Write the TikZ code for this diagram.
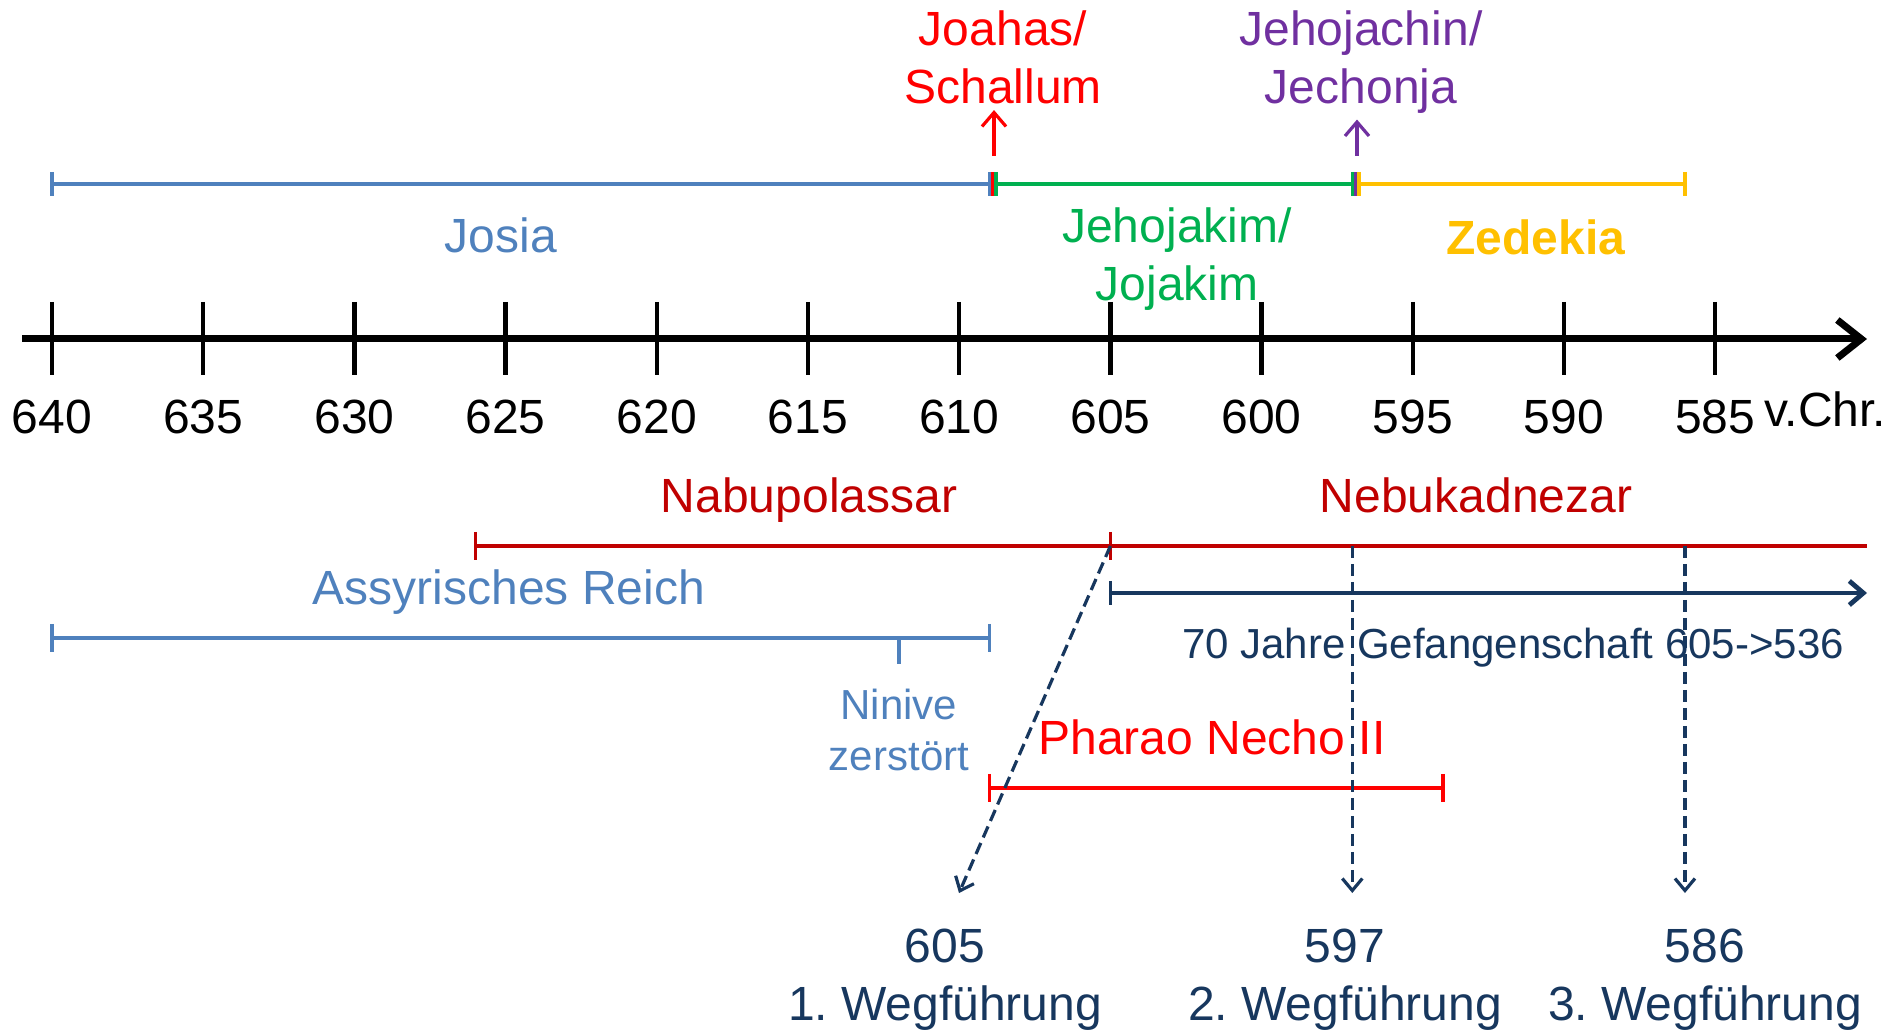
\documentclass[tikz,border=0pt]{standalone}
\usepackage{fontspec}
\setmainfont{Liberation Sans}
\usetikzlibrary{arrows.meta}
\frenchspacing

\definecolor{josia}{RGB}{79,129,189}
\definecolor{kred}{RGB}{255,0,0}
\definecolor{kgreen}{RGB}{0,176,80}
\definecolor{kgold}{RGB}{255,192,0}
\definecolor{kpurple}{RGB}{112,48,160}
\definecolor{babred}{RGB}{192,0,0}
\definecolor{navy}{RGB}{23,55,94}

% x position of a year (in px of the picture)
\newcommand{\yr}[1]{(52+(640-#1)*30.24)}

\tikzset{
  lbl/.style={inner sep=0pt, align=center, font=\fontsize{24}{29}\selectfont},
  lblsm/.style={inner sep=0pt, align=center, font=\fontsize{21}{25.5}\selectfont},
  span/.style={line width=2.4pt},
  tck/.style={line width=1.8pt},
  wegf/.style={navy, line width=1.6pt, dash pattern=on 6pt off 3pt,
    -{Straight Barb[length=6pt,width=10pt]}},
}

\begin{document}
\begin{tikzpicture}[x=0.5pt,y=-0.5pt]
\useasboundingbox (0,0) rectangle (1897,1031);

% time axis
\coordinate (axL) at (22,339);
\coordinate (axR) at (1867,339);
\draw[line width=3.5pt, -{Straight Barb[length=12pt,width=19pt]}] (axL) -- (axR);
\foreach \y in {640,635,...,585}{
  \draw[line width=2.2pt] ({\yr{\y}},302) -- ({\yr{\y}},375);
  \node[lbl, anchor=base] (l\y) at ({\yr{\y}},434) {\y};
}
\node[lbl, anchor=base west] (vchr) at (1764,427) {v.Chr.};

% kings of Juda
\coordinate (k640) at ({\yr{640}},184);
\coordinate (k609) at ({\yr{609}},184);
\coordinate (k597) at ({\yr{597}},184);
\coordinate (k586) at ({\yr{586}},184);
\draw[span,josia] (k640) -- (k609);
\draw[span,kgreen] ([xshift=2pt]k609) -- (k597);
\draw[span,kgold] ([xshift=2pt]k597) -- (k586);
\draw[tck,josia] ([yshift=6pt]k640) -- ([yshift=-6pt]k640);
\draw[tck,josia] ([yshift=6pt]k609) -- ([yshift=-6pt]k609);
\draw[tck,kred] ([xshift=1.7pt,yshift=6pt]k609) -- ([xshift=1.7pt,yshift=-6pt]k609);
\draw[tck,kgreen] ([xshift=3.4pt,yshift=6pt]k609) -- ([xshift=3.4pt,yshift=-6pt]k609);
\draw[tck,kgreen] ([yshift=6pt]k597) -- ([yshift=-6pt]k597);
\draw[tck,kpurple] ([xshift=1.7pt,yshift=6pt]k597) -- ([xshift=1.7pt,yshift=-6pt]k597);
\draw[tck,kgold] ([xshift=3.4pt,yshift=6pt]k597) -- ([xshift=3.4pt,yshift=-6pt]k597);
\draw[tck,kgold] ([yshift=6pt]k586) -- ([yshift=-6pt]k586);

\node[lbl, josia, anchor=base] (jos) at (501,253) {Josia};
\node[lbl, kgreen, anchor=north] (jkm) at (1177,207) {Jehojakim/\\Jojakim};
\node[lbl, kgold, anchor=base, font=\fontsize{24}{29}\selectfont\bfseries] (zed) at (1536,255) {Zedekia};
\node[lbl, kred, anchor=north] (joa) at (1003,10) {Joahas/\\Schallum};
\node[lbl, kpurple, anchor=north] (jch) at (1361,10) {Jehojachin/\\Jechonja};
\coordinate (joaA) at (994,156);
\coordinate (jchA) at (1357,156);
\draw[kred, line width=1.6pt, -{Straight Barb[length=7pt,width=12pt]}, shorten >=3pt] (joaA) -- (joaA |- joa.south);
\draw[kpurple, line width=1.6pt, -{Straight Barb[length=7pt,width=12pt]}, shorten >=3pt] (jchA) -- (jchA |- jch.south);

% Babylon
\coordinate (b626) at ({\yr{626}},546);
\coordinate (b605) at ({\yr{605}},546);
\coordinate (bR) at (1867,546);
\draw[span,babred] (b626) -- (bR);
\draw[tck,babred] ([yshift=7pt]b626) -- ([yshift=-7pt]b626);
\draw[tck,babred] ([yshift=7pt]b605) -- ([yshift=-7pt]b605);
\node[lbl, babred, anchor=base] (nab) at (809,513) {Nabupolassar};
\node[lbl, babred, anchor=base] (neb) at (1476,513) {Nebukadnezar};

% Assyria
\coordinate (a640) at ({\yr{640}},638);
\coordinate (a612) at ({\yr{612}},638);
\coordinate (a609) at ({\yr{609}},638);
\draw[span,josia] (a640) -- (a609);
\draw[tck,josia] ([yshift=7pt]a640) -- ([yshift=-7pt]a640);
\draw[tck,josia] ([yshift=7pt]a609) -- ([yshift=-7pt]a609);
\draw[tck,josia] (a612) -- ([yshift=-13pt]a612);
\node[lbl, josia, anchor=base] (ass) at (509,605) {Assyrisches Reich};
\node[lblsm, josia, anchor=north] (nin) at (899,689) {Ninive\\zerstört};

% 70 years
\coordinate (g605) at ({\yr{605}},593);
\coordinate (gR) at (1867,593);
\draw[span,navy, -{Straight Barb[length=7pt,width=12pt]}] (g605) -- (gR);
\draw[tck,navy] ([yshift=6pt]g605) -- ([yshift=-6pt]g605);
\node[lblsm, navy, anchor=base] (gef) at (1513,659) {70 Jahre Gefangenschaft 605->536};

% Egypt
\coordinate (p609) at ({\yr{609}},788);
\coordinate (p594) at ({\yr{594}},788);
\draw[span,kred] (p609) -- (p594);
\draw[tck,kred] ([yshift=7pt]p609) -- ([yshift=-7pt]p609);
\draw[tck,kred] ([yshift=7pt]p594) -- ([yshift=-7pt]p594);
\node[lbl, kred, anchor=base] (pha) at (1212,755) {Pharao Necho II};

% deportations
\node[lbl, navy, anchor=north] (w1) at (945,929) {605\\1. Wegführung};
\node[lbl, navy, anchor=north] (w2) at (1345,929) {597\\2. Wegführung};
\node[lbl, navy, anchor=north] (w3) at (1705,929) {586\\3. Wegführung};
\coordinate (w1e) at (959,893);
\coordinate (b597) at ({\yr{597}},546);
\coordinate (b586) at ({\yr{586}},546);
\coordinate (w2e) at ({\yr{597}},893);
\coordinate (w3e) at ({\yr{586}},893);
\draw[wegf] (b605) -- (w1e);
\draw[wegf] (b597) -- (w2e);
\draw[wegf] (b586) -- (w3e);

\end{tikzpicture}
\end{document}
